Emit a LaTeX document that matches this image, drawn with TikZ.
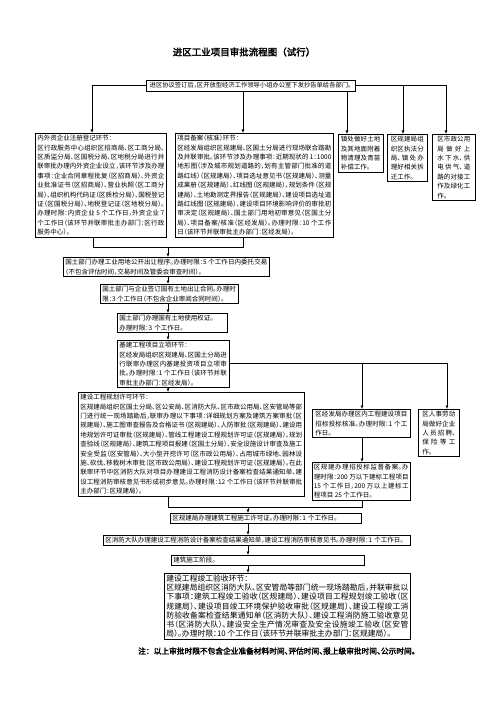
\documentclass[tikz,border=0pt]{standalone}
\usepackage{fontspec}
\setmainfont{Noto Sans CJK SC}[RawFeature=+halt]
\newfontfamily\cjkbold{Noto Sans CJK SC}[FakeBold=2.5]
\newfontfamily\cjkboldh{Noto Sans CJK SC}[FakeBold=2.5,RawFeature=+halt]
\XeTeXlinebreaklocale "zh"
\XeTeXlinebreakskip=0pt plus 1.2pt
\usetikzlibrary{arrows.meta}
\newcommand\fsn{\fontsize{6.5}{9.4}\selectfont}
\newcommand\fsq{\fontsize{7.8}{9.2}\selectfont}
\tikzset{
  bx/.style={draw, line width=0.7pt, anchor=north west, inner xsep=2pt, inner ysep=1.8pt, align=justify, font=\fsn, text width=#1},
  bxl/.style={draw, line width=0.7pt, anchor=north west, inner xsep=2pt, inner ysep=1.8pt, align=left, font=\fsn, text width=#1},
  arr/.style={line width=0.7pt, -{Latex[length=3.5pt,width=3pt]}},
  ln/.style={line width=0.7pt},
}
\begin{document}
\begin{tikzpicture}[x=1pt,y=-1pt]
\useasboundingbox[fill=white] (0,0) rectangle (503,711);
% title
\node[font=\cjkbold\fontsize{9.5}{11}\selectfont] (title) at (244,52) {进区工业项目审批流程图（试行）};
% top box
\node[draw, line width=0.9pt, font=\fontsize{6.3}{7}\selectfont, minimum width=209pt, minimum height=11pt, inner sep=1pt] (T) at (250.5,85.5) {进区协议签订后，区开放型经济工作领导小组办公室下发抄告单给各部门。};
% row 1
\node[bx=127pt] (L) at (35,133) {内外资企业注册登记环节：\\区行政服务中心组织区招商局、区工商分局、区质监分局、区国税分局、区地税分局进行并联审批办理内外资企业设立，该环节涉及办理事项：企业合同章程批复（区招商局）、外资企业批准证书（区招商局）、营业执照（区工商分局）、组织机构代码证（区质检分局）、国税登记证（区国税分局）、地税登记证（区地税分局）。办理时限：内资企业 5 个工作日，外资企业 7 个工作日（该环节并联审批主办部门：区行政服务中心）。};
\node[bx=154pt] (M) at (175,133) {项目备案（核准）环节：\\区经发局组织区规建局、区国土分局进行现场联合踏勘及并联审批。该环节涉及办理事项：近期现状的 1：1000 地形图（涉及城市规划道路的，划有主管部门批准的道路红线）（区规建局）、项目选址意见书（区规建局）、测量成果册（区规建局）、红线图（区规建局）、规划条件（区规建局）、土地勘测定界报告（区规建局）、建设项目选址道路红线图（区规建局）、建设项目环境影响评价的审批初审决定（区规建局）、国土部门用地初审意见（区国土分局）、项目备案/核准（区经发局）。办理时限：10 个工作日（该环节并联审批主办部门：区经发局）。};
\node[bx=39.5pt, inner xsep=2.5pt] (A) at (338,134) {镇处做好土地及其地面附着物清理及青苗补偿工作。};
\node[bx=33pt, inner xsep=3.5pt] (B) at (387,134) {区规建局组织区执法分局、镇处办理好相关拆迁工作。};
\node[bx=33pt, inner xsep=5pt] (C) at (432,134) {区市政公用局做好上水下水、供电供气、道路的对接工作及绿化工作。};
% land chain
\node[bx=202pt] (G1) at (63,257) {国土部门办理工业用地公开出让程序。办理时限：5 个工作日内委托交易（不包含评估时间，交易时间及管委会审查时间）。};
\node[bx=133.5pt] (G2) at (100,284) {国土部门与企业签订国有土地出让合同。办理时限：3 个工作日（不包含企业审阅合同时间）。};
\node[bxl=106pt] (G3) at (117,313) {国土部门办理国有土地使用权证。\\办理时限：3 个工作日。};
\node[bx=107.5pt] (G4) at (117,340) {基建工程项目立项环节：\\区经发局组织区规建局、区国土分局进行联审办理区内基建投资项目立项审批。办理时限：1 个工作日（该环节并联审批主办部门：区经发局）。};
\node[bx=221.8pt] (P) at (78,392) {建设工程规划许可环节：\\区规建局组织区国土分局、区公安局、区消防大队、区市政公用局、区安管局等部门进行统一现场踏勘后，联审办理以下事项：详细规划方案及建筑方案审批（区规建局）、施工图审查报告及合格证书（区规建局）、人防审批（区规建局）、建设用地规划许可证审批（区规建局）、管线工程建设工程规划许可证（区规建局）、规划查验线（区规建局）、建筑工程项目报建（区国土分局）、安全设施设计审查及施工安全受监（区安管局）、大小型开挖许可（区市政公用局）、占用城市绿地、园林设施、砍伐、移栽树木审批（区市政公用局）、建设工程规划许可证（区规建局）。在此联审环节中区消防大队对项目办理建设工程消防设计备案检查结果通知单、建设工程消防审核意见书形成初步意见。办理时限：12 个工作日（该环节并联审批主办部门：区规建局）。};
% right column
\node[bx=92pt, inner xsep=3pt] (R1) at (312,409) {区经发局办理区内工程建设项目招标投标核准。办理时限：1 个工作日。};
\node[bx=33pt, inner xsep=4pt] (R2) at (418,409) {区人事劳动局做好企业人员招聘、保险等工作。};
\node[bx=94.8pt, inner xsep=1.5pt] (R3) at (312,462) {区规建办理招投标监督备案。办理时限：200 万以下建标工程项目 15 个工作日，200 万以上建标工程项目 25 个工作日。};
% bottom chain
\node[bxl=187pt] (B1) at (170,513) {区规建局办理建筑工程施工许可证。办理时限：1 个工作日。};
\node[bxl=303pt] (B2) at (103,535) {区消防大队办理建设工程消防设计备案检查结果通知单，建设工程消防审核意见书。办理时限：1 个工作日。};
\node[bxl=189pt] (B3) at (171,555) {建筑施工阶段。};
\node[bx=242pt, font=\fsq, inner ysep=1.5pt] (B4) at (164,573) {建设工程竣工验收环节：\\区规建局组织区消防大队、区安管局等部门统一现场踏勘后，并联审批以下事项：建筑工程竣工验收（区规建局）、建设项目工程规划竣工验收（区规建局）、建设项目竣工环境保护验收审批（区规建局）、建设工程竣工消防验收备案检查结果通知单（区消防大队）、建设工程消防施工验收意见书（区消防大队）、建设安全生产情况审查及安全设施竣工验收（区安管局）。办理时限：10 个工作日（该环节并联审批主办部门：区规建局）。};
% note
\node[anchor=west, font=\cjkboldh\fontsize{7.7}{9}\selectfont, inner sep=0pt] (note) at (138,651) {注：\hspace{4pt}以上审批时限不包含企业准备材料时间、评估时间、报上级审批时间、公示时间。};
% connectors: top
\coordinate (h1) at (92,85.5);
\coordinate (h2) at (446,85.5);
\coordinate (h3) at (403,85.5);
\coordinate (v2) at (243,0);
\coordinate (v3) at (347,0);
\draw[ln] (T.west) -- (h1);
\draw[ln] (T.east) -- (h2);
\draw[arr] (h1) -- (h1 |- L.north);
\draw[arr] (v2 |- T.south) -- (v2 |- M.north);
\draw[arr] (v3 |- T.south) -- (v3 |- A.north);
\draw[arr] (h3) -- (h3 |- B.north);
\draw[arr] (h2) -- (h2 |- C.north);
% join to land chain
\coordinate (j1) at (93,247);
\coordinate (j2) at (243,247);
\coordinate (j3) at (168,247);
\draw[ln] (j1 |- L.south) -- (j1) -- (j2) -- (j2 |- M.south);
\draw[arr] (j3) -- (j3 |- G1.north);
\draw[arr] (j3 |- G1.south) -- (j3 |- G2.north);
\draw[arr] (j3 |- G2.south) -- (j3 |- G3.north);
\draw[arr] (j3 |- G3.south) -- (j3 |- G4.north);
\draw[arr] (j3 |- G4.south) -- (j3 |- P.north);
% to right column
\coordinate (k1) at (362,363);
\coordinate (k2) at (447,363);
\draw[ln] (G4.east |- k1) -- (k2);
\draw[arr] (k1) -- (k1 |- R1.north);
\draw[arr] (k2) -- (k2 |- R2.north);
\draw[arr] (k1 |- R1.south) -- (k1 |- R3.north);
% join to bottom chain
\coordinate (m1) at (168,507);
\coordinate (m2) at (362,507);
\coordinate (m3) at (248,507);
\draw[ln] (m1 |- P.south) -- (m1) -- (m2) -- (m2 |- R3.south);
\draw[arr] (m3) -- (m3 |- B1.north);
\draw[arr] (m3 |- B1.south) -- (m3 |- B2.north);
\draw[arr] (m3 |- B2.south) -- (m3 |- B3.north);
\draw[arr] (m3 |- B3.south) -- (m3 |- B4.north);
\end{tikzpicture}
\end{document}
